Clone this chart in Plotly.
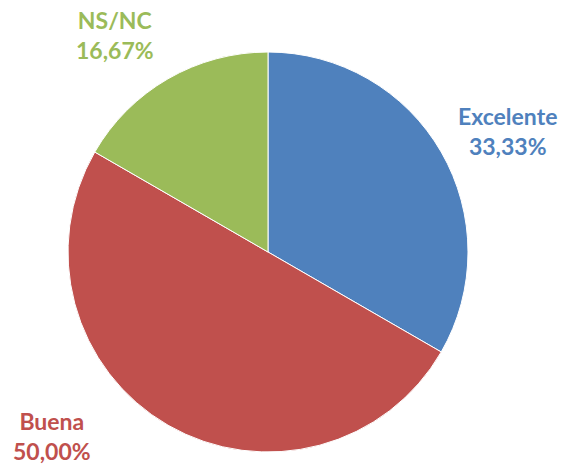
import plotly.graph_objects as go

labels = ["Excelente", "Buena", "NS/NC"]
values = [33.33, 50.00, 16.67]
colors = ["#4F81BD", "#C0504D", "#9BBB59"]

# label positions (paper coords) for the outside texts
label_pos = [(0.888, 0.72), (0.091, 0.068), (0.201, 0.925)]

fig = go.Figure(go.Pie(
    labels=labels, values=values, sort=False, direction="clockwise", rotation=0,
    marker=dict(colors=colors, line=dict(color="white", width=1)),
    textinfo="none", hoverinfo="label+percent",
    domain=dict(x=[68/572, 468/572], y=[16/468, 416/468]),
))

for lab, val, col, (x, y) in zip(labels, values, colors, label_pos):
    txt = f"{lab}<br>{val:.2f}%".replace(".", ",")
    fig.add_annotation(text=txt, x=x, y=y, xref="paper", yref="paper",
                       xanchor="center", yanchor="middle",
                       showarrow=False, align="center",
                       font=dict(family="Lato", size=23, color=col, weight="bold"))

fig.update_layout(width=572, height=468, margin=dict(l=0, r=0, t=0, b=0),
                  showlegend=False, paper_bgcolor="white", plot_bgcolor="white")

fig.write_html("out.html", config={"displayModeBar": False},
               post_script="document.body.style.margin='0';")
